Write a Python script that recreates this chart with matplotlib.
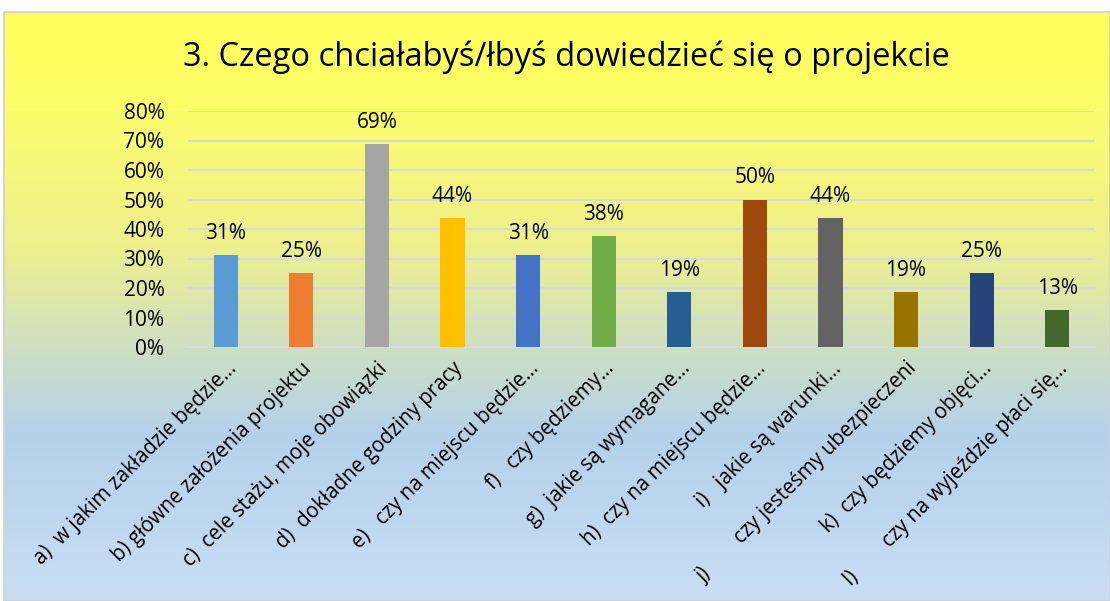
import matplotlib
matplotlib.use("Agg")
import matplotlib.pyplot as plt
import numpy as np
from matplotlib.colors import LinearSegmentedColormap
from matplotlib.ticker import PercentFormatter

categories = [
    "a)  w jakim zakładzie będzie…",
    "b) główne założenia projektu",
    "c)  cele stażu, moje obowiązki",
    "d)  dokładne godziny pracy",
    "e)   czy na miejscu będzie…",
    "f)   czy będziemy…",
    "g)  jakie są wymagane…",
    "h)  czy na miejscu będzie…",
    "i)   jakie są warunki…",
    "j)        czy jesteśmy ubezpieczeni",
    "k)  czy będziemy objęci…",
    "l)        czy na wyjeździe płaci się…",
]
values = [0.3125, 0.25, 0.6875, 0.4375, 0.3125, 0.375, 0.1875, 0.50, 0.4375, 0.1875, 0.25, 0.125]
value_labels = ["31%", "25%", "69%", "44%", "31%", "38%", "19%", "50%", "44%", "19%", "25%", "13%"]
colors = ["#5B9BD5", "#ED7D31", "#A5A5A5", "#FFC000", "#4472C4", "#70AD47",
          "#255E91", "#9E480E", "#636363", "#997300", "#264478", "#43682B"]
title = "3. Czego chciałabyś/łbyś dowiedzieć się o projekcie"

plt.rcParams['font.family'] = ['Open Sans', 'DejaVu Sans']

W, H = 1110, 601
fig = plt.figure(figsize=(W / 100, H / 100), dpi=100)
fig.patch.set_facecolor("white")

# background gradient panel
bg = fig.add_axes([4 / W, 0, 1 - 4 / W, 589 / H], zorder=-5)
stops = [(0.0, (1.0, 1.0, 0.36)), (0.12, (1.0, 1.0, 0.40)), (0.40, (0.93, 0.94, 0.56)),
         (0.58, (0.80, 0.87, 0.78)), (0.72, (0.71, 0.82, 0.92)), (1.0, (0.79, 0.87, 0.95))]
cmap = LinearSegmentedColormap.from_list("bg", stops)
grad = np.linspace(0, 1, 256).reshape(-1, 1)
bg.imshow(grad, aspect="auto", cmap=cmap, extent=[0, 1, 0, 1], origin="upper")
bg.set_xticks([])
bg.set_yticks([])
for s in bg.spines.values():
    s.set_color("#D0D0D0")
    s.set_linewidth(1.2)

x0, x1 = 188, 1095
ytop, ybot = 111, 347
ax = fig.add_axes([x0 / W, (H - ybot) / H, (x1 - x0) / W, (ybot - ytop) / H])
ax.patch.set_alpha(0)
x = np.arange(len(categories))
ax.bar(x, values, width=0.32, color=colors, zorder=3)
ax.set_xlim(-0.5, len(categories) - 0.5)
ax.set_ylim(0, 0.8)
ax.set_yticks(np.arange(0, 0.81, 0.1))
ax.yaxis.set_major_formatter(PercentFormatter(1.0, decimals=0))
ax.grid(axis="y", color="#D9D9D9", linewidth=1.5, zorder=0)
for s in ["top", "right", "left"]:
    ax.spines[s].set_visible(False)
ax.spines["bottom"].set_color("#D9D9D9")
ax.spines["bottom"].set_linewidth(1.5)
ax.tick_params(axis="both", length=0)
ax.tick_params(axis="y", pad=17, labelsize=15)
ax.set_xticks(x)
ax.set_xticklabels(categories, rotation=45, ha="right", rotation_mode="anchor", fontsize=14.8)
ax.tick_params(axis="x", pad=8)

for xi, v, lab in zip(x, values, value_labels):
    ax.annotate(lab, (xi, v), xytext=(0, 8), textcoords="offset points",
                ha="center", va="bottom", fontsize=15)

fig.text(566 / W, 1 - 57 / H, title, ha="center", va="center", fontsize=23.5)

fig.savefig("out.png", dpi=100)
